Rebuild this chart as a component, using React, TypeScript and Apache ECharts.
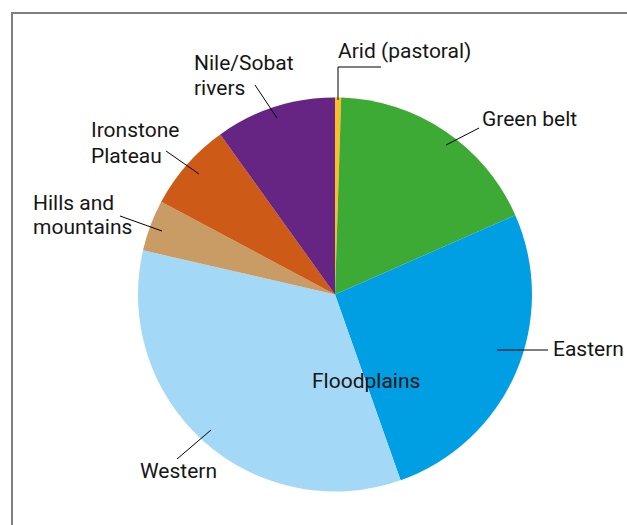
import React, { useEffect, useRef } from "react";
import * as echarts from "echarts";

const categories = [
  "Arid (pastoral)",
  "Green belt",
  "Eastern",
  "Western",
  "Hills and mountains",
  "Ironstone Plateau",
  "Nile/Sobat rivers",
];
const shares = [0.5, 17.9, 26.2, 34.0, 4.2, 7.3, 9.9];
const colors = ["#F9BE2A", "#3DAA35", "#009FE3", "#A3D9F6", "#C99C66", "#CD5B17", "#662483"];
const groupLabel = "Floodplains";

const FONT = "Roboto, 'Noto Sans', sans-serif";
const FS = 21;

export default function App() {
  const ref = useRef<HTMLDivElement>(null);
  useEffect(() => {
    if (!ref.current) return;
    const chart = echarts.init(ref.current, null, { renderer: "svg" });
    const txt = (text: string, x: number, y: number) => ({
      type: "text",
      x,
      y,
      style: {
        text,
        font: `${FS}px ${FONT}`,
        fill: "#161616",
        textAlign: "left",
        textVerticalAlign: "middle",
      },
      z: 10,
    });
    const seg = (pts: number[][]) => ({
      type: "polyline",
      shape: { points: pts },
      style: { stroke: "#000", lineWidth: 1, fill: "none" },
      z: 10,
    });
    chart.setOption({
      animation: false,
      backgroundColor: "#fff",
      series: [
        {
          type: "pie",
          center: [335, 294.5],
          radius: 197,
          startAngle: 90,
          clockwise: true,
          label: { show: false },
          labelLine: { show: false },
          emphasis: { disabled: true },
          itemStyle: { borderWidth: 0 },
          data: categories.map((n, i) => ({
            name: n,
            value: shares[i],
            itemStyle: { color: colors[i] },
          })),
        },
      ],
      graphic: [
        {
          type: "rect",
          shape: { x: 12, y: 13, width: 800, height: 700 },
          style: { fill: "none", stroke: "#808080", lineWidth: 2 },
          z: 1,
        },
        txt(categories[0], 338, 51),
        seg([[338, 100], [338, 67], [381, 67]]),
        txt(categories[1], 482, 119),
        seg([[479, 128], [446, 145]]),
        txt(categories[2], 553, 349),
        seg([[497, 350], [548, 350]]),
        txt(groupLabel, 312, 381),
        txt(categories[3], 140, 471),
        seg([[177, 459], [211, 430]]),
        txt("Hills and", 33, 203),
        txt("mountains", 33, 227),
        seg([[120, 216], [162, 231]]),
        txt("Ironstone", 91, 130),
        txt("Plateau", 91, 156),
        seg([[166, 151], [199, 174]]),
        txt("Nile/Sobat", 194, 63),
        txt("rivers", 194, 88),
        seg([[255, 85], [277, 118]]),
      ],
    });
    return () => chart.dispose();
  }, []);
  return (
    <div
      ref={ref}
      style={{ position: "fixed", left: 0, top: 0, width: 627, height: 525 }}
    />
  );
}
